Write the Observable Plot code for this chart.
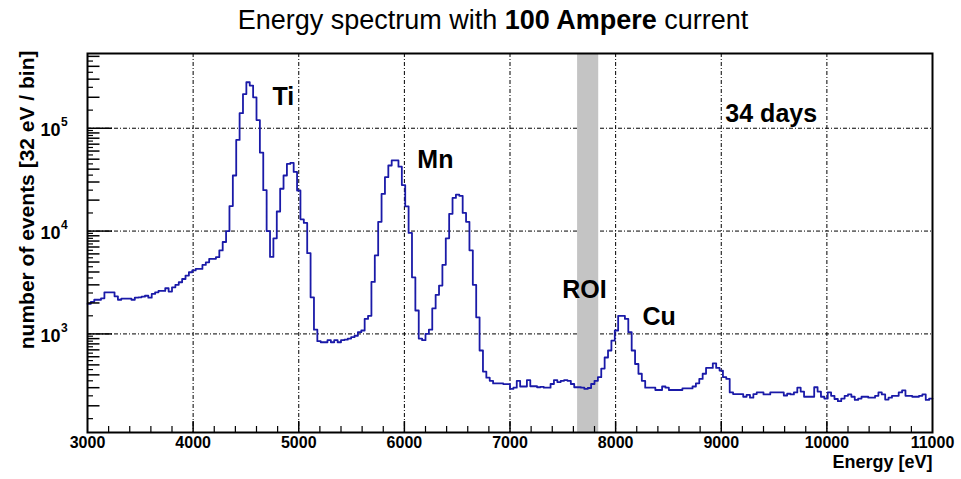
<!DOCTYPE html>
<html><head><meta charset="utf-8">
<script src="https://cdn.jsdelivr.net/npm/d3@7"></script>
<script src="https://cdn.jsdelivr.net/npm/@observablehq/plot@0.6"></script>
<style>
body{margin:0;background:#fff;font-family:"Liberation Sans",Arial,Helvetica,sans-serif;}
#title{width:961px;height:40px;line-height:40px;text-align:center;font-size:27px;padding-left:25px;box-sizing:border-box;color:#000;}
#chart svg{display:block;}
</style></head><body>
<div id="title">Energy spectrum with <b>100 Ampere</b> current</div>
<div id="chart"></div>
<script>
// histogram: 32 eV bins starting at 3000 eV
const binStart = 3000, binWidth = 32;
const counts3000 = [1960,2050,2150,2150,2220,2540,2540,2540,2320,2150,2200,2200,2200,2150,2250,2270,2300,2350,2250,2450,2540,2620,2620,2780,2580];
const counts3800 = [2840,3000,3180,3420,3690,3980,4140,4290,4290,4690,4970,5370,5370,5570,6480,7830,10000,17500,34700,77000,140000,215000,280000,260000,200000];
const counts4600 = [120000,58000,25000,10000,5600,8500,15500,25800,34700,45000,46000,37600,24800,13000,12000,6100,2270,1100,850,830,830,870,830,870,830];
const counts5400 = [870,880,900,930,960,1040,1080,1400,1500,3200,5800,12300,23000,33400,43400,48600,48600,42300,28000,17400,9600,3550,1690,900,870];
const counts6200 = [1000,1100,1770,2400,2950,4700,8500,14700,21000,22600,22000,15000,12300,6500,3000,1450,690,430,375,350,330,330,330,325,325];
const counts7000 = [292,300,350,308,308,356,310,310,303,306,300,300,326,356,340,350,356,350,326,303,303,300,292,298,326];
const counts7800 = [350,380,460,590,690,860,1080,1500,1500,1400,1040,690,510,410,350,300,300,300,285,285,308,300,285,285,285];
const counts8600 = [285,295,295,295,308,331,365,410,467,467,518,467,440,380,365,270,260,260,260,245,255,240,260,270,270];
const counts9400 = [258,258,270,270,270,270,252,262,258,270,300,275,245,245,245,303,275,245,235,270,250,233,222,235,250];
const counts10200 = [258,245,228,235,245,245,240,240,250,270,258,230,240,250,250,270,282,250,250,245,245,250,258,228,235];

const xLabels = [3000,4000,5000,6000,7000,8000,9000,10000,11000];
const yMajor = [1e3,1e4,1e5];
const yExponents = ["3","4","5"];
const roi = [{lo:7640, hi:7840}];
const annotations = [
  {label:"Ti", e:4752, n:200000},
  {label:"Mn", e:6123, n:49500},
  {label:"ROI", e:7494, n:2690},
  {label:"Cu", e:8254, n:1450},
  {label:"34 days", e:9039, n:138000}
];

const counts = [].concat(counts3000,counts3800,counts4600,counts5400,counts6200,counts7000,counts7800,counts8600,counts9400,counts10200);
const hist = counts.map((n,i)=>({e: binStart + i*binWidth, n}));
hist.push({e: binStart + counts.length*binWidth, n: counts[counts.length-1]});

const yDomain = [110, 533000];
const W = 961, H = 439, mL = 87, mR = 29, mT = 13, mB = 47;
const frameW = W - mL - mR, frameH = H - mT - mB;

const xGrid = xLabels.slice(1, -1);
const xMinor = [];
for (let v = 3200; v < 11000; v += 200) if (v % 1000) xMinor.push(v);
const yMid = [], ySmall = [];
for (const d of [100,1000,10000,100000]) {
  for (let k = 2; k <= 9; k++) { const v = k*d; if (v > yDomain[0] && v < yDomain[1]) yMid.push(v); }
  for (let k = 1.5; k < 10; k += 1) { const v = k*d; if (v > yDomain[0] && v < yDomain[1]) ySmall.push(v); }
}
const dash = "4,2,1,2";

const chart = Plot.plot({
  width: W, height: H,
  marginLeft: mL, marginRight: mR, marginTop: mT, marginBottom: mB,
  x: {domain: [3000, 11000], axis: null},
  y: {type: "log", domain: yDomain, axis: null},
  style: {fontFamily: "'Liberation Sans', Arial, Helvetica, sans-serif", background: "white", color: "black"},
  marks: [
    Plot.ruleX(xGrid, {stroke: "black", strokeWidth: 1, strokeDasharray: dash}),
    Plot.ruleY(yMajor, {stroke: "black", strokeWidth: 1, strokeDasharray: dash}),
    Plot.rect(roi, {x1: "lo", x2: "hi", y1: () => yDomain[0], y2: () => yDomain[1], fill: "#c4c4c4"}),
    Plot.line(hist, {x: "e", y: "n", curve: "step-after", stroke: "#1a1aa8", strokeWidth: 1.8}),
    // y ticks (inside, from the left axis)
    Plot.tickY(yMajor, {y: d => d, stroke: "black", strokeWidth: 1.5, insetRight: frameW - 25}),
    Plot.tickY(yMid, {y: d => d, stroke: "black", strokeWidth: 1.5, insetRight: frameW - 12.5}),
    Plot.tickY(ySmall, {y: d => d, stroke: "black", strokeWidth: 1.2, insetRight: frameW - 6}),
    // x ticks (inside, from the bottom axis)
    Plot.tickX(xGrid, {x: d => d, stroke: "black", strokeWidth: 1.5, insetTop: frameH - 11}),
    Plot.tickX(xMinor, {x: d => d, stroke: "black", strokeWidth: 1.2, insetTop: frameH - 6}),
    Plot.frame({stroke: "black", strokeWidth: 2}),
    // tick labels
    Plot.text(xLabels, {x: d => d, text: d => String(d), frameAnchor: "bottom", dy: 15, fontSize: 16, fontWeight: "bold"}),
    Plot.text(yMajor, {y: d => d, text: () => "10", frameAnchor: "left", textAnchor: "end", dx: -27, dy: 2, fontSize: 18, fontWeight: "bold"}),
    Plot.text(yMajor, {y: d => d, text: (d, i) => yExponents[i], frameAnchor: "left", textAnchor: "start", dx: -26.5, dy: -6, fontSize: 12, fontWeight: "bold"}),
    // axis titles
    Plot.text(["Energy [eV]"], {frameAnchor: "bottom-right", textAnchor: "end", dy: 35, fontSize: 18, fontWeight: "bold"}),
    Plot.text(["number of events [32 eV / bin]"], {frameAnchor: "top-left", rotate: -90, textAnchor: "end", dx: -68, dy: -3, fontSize: 21, fontWeight: "bold"}),
    // annotations
    Plot.text(annotations, {x: "e", y: "n", text: "label", textAnchor: "start", fontSize: 25, fontWeight: "bold"})
  ]
});
document.getElementById("chart").appendChild(chart);
</script>
</body></html>
